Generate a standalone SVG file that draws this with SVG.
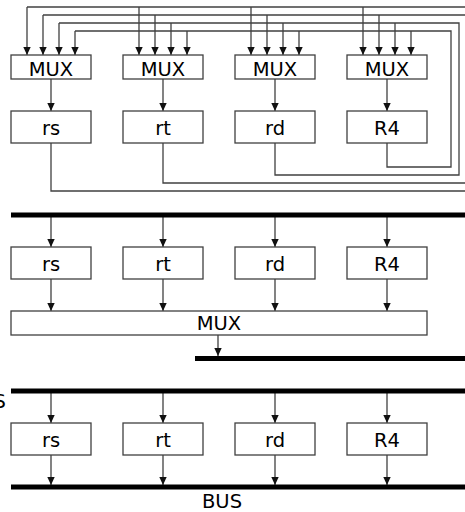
<svg xmlns="http://www.w3.org/2000/svg" width="465" height="512" viewBox="0 0 465 512">
<style>
.box{fill:#fff;stroke:#404040;stroke-width:1.3}
.ln{fill:none;stroke:#404040;stroke-width:1.3}
.arr{fill:none;stroke:#404040;stroke-width:1.3;marker-end:url(#ah)}
.bar{fill:none;stroke:#000;stroke-width:5}
.t{font-family:"DejaVu Sans",Verdana,sans-serif;font-size:19.5px;fill:#000;text-anchor:middle}
</style>
<defs>
<marker id="ah" markerWidth="8" markerHeight="8" refX="8" refY="4" orient="auto" markerUnits="userSpaceOnUse">
<path d="M0,0.3 L8,4 L0,7.7 z" fill="#111"/>
</marker>
</defs>
<rect width="465" height="512" fill="#fff"/>

<g id="connectors">
<polyline class="ln" points="51,143 51,191 470,191"/>
<polyline class="ln" points="163,143 163,183 470,183"/>
<polyline class="ln" points="275,143 275,175 459,175 459,23 59,23"/>
<polyline class="ln" points="387,143 387,167 451,167 451,31 75,31"/>
<polyline class="ln" points="470,7 27,7"/>
<polyline class="ln" points="470,15 43,15"/>
<path class="arr" d="M27,7V55"/><path class="arr" d="M43,15V55"/><path class="arr" d="M59,23V55"/><path class="arr" d="M75,31V55"/>
<path class="arr" d="M139,7V55"/><path class="arr" d="M155,15V55"/><path class="arr" d="M171,23V55"/><path class="arr" d="M187,31V55"/>
<path class="arr" d="M251,7V55"/><path class="arr" d="M267,15V55"/><path class="arr" d="M283,23V55"/><path class="arr" d="M299,31V55"/>
<path class="arr" d="M363,7V55"/><path class="arr" d="M379,15V55"/><path class="arr" d="M395,23V55"/><path class="arr" d="M411,31V55"/>
<path class="arr" d="M51,79V111"/><path class="arr" d="M163,79V111"/><path class="arr" d="M275,79V111"/><path class="arr" d="M387,79V111"/>
<path class="arr" d="M51,217V247"/><path class="arr" d="M163,217V247"/><path class="arr" d="M275,217V247"/><path class="arr" d="M387,217V247"/>
<path class="arr" d="M51,279V311"/><path class="arr" d="M163,279V311"/><path class="arr" d="M275,279V311"/><path class="arr" d="M387,279V311"/>
<path class="arr" d="M218,335V356"/>
<path class="arr" d="M51,393V423"/><path class="arr" d="M163,393V423"/><path class="arr" d="M275,393V423"/><path class="arr" d="M387,393V423"/>
<path class="arr" d="M51,455V485"/><path class="arr" d="M163,455V485"/><path class="arr" d="M275,455V485"/><path class="arr" d="M387,455V485"/>
</g>

<g id="mux1"><rect class="box" x="11" y="55" width="80" height="24"/><text class="t" x="51" y="75.5">MUX</text></g>
<g id="mux2"><rect class="box" x="123" y="55" width="80" height="24"/><text class="t" x="163" y="75.5">MUX</text></g>
<g id="mux3"><rect class="box" x="235" y="55" width="80" height="24"/><text class="t" x="275" y="75.5">MUX</text></g>
<g id="mux4"><rect class="box" x="347" y="55" width="80" height="24"/><text class="t" x="387" y="75.5">MUX</text></g>
<g id="rs1"><rect class="box" x="11" y="111" width="80" height="32"/><text class="t" x="51" y="134.5">rs</text></g>
<g id="rt1"><rect class="box" x="123" y="111" width="80" height="32"/><text class="t" x="163" y="134.5">rt</text></g>
<g id="rd1"><rect class="box" x="235" y="111" width="80" height="32"/><text class="t" x="275" y="134.5">rd</text></g>
<g id="r41"><rect class="box" x="347" y="111" width="80" height="32"/><text class="t" x="387" y="134.5">R4</text></g>

<g id="bus2top"><line class="bar" x1="11" y1="215" x2="465" y2="215"/></g>
<g id="rs2"><rect class="box" x="11" y="247" width="80" height="32"/><text class="t" x="51" y="270.5">rs</text></g>
<g id="rt2"><rect class="box" x="123" y="247" width="80" height="32"/><text class="t" x="163" y="270.5">rt</text></g>
<g id="rd2"><rect class="box" x="235" y="247" width="80" height="32"/><text class="t" x="275" y="270.5">rd</text></g>
<g id="r42"><rect class="box" x="347" y="247" width="80" height="32"/><text class="t" x="387" y="270.5">R4</text></g>
<g id="mux5"><rect class="box" x="11" y="311" width="416" height="24"/><text class="t" x="219" y="330">MUX</text></g>
<g id="bus2out"><line class="bar" x1="195" y1="358.5" x2="465" y2="358.5"/></g>

<g id="bus3top"><line class="bar" x1="11" y1="391" x2="465" y2="391"/><text class="t" x="6" y="408" style="text-anchor:end">BUS</text></g>
<g id="rs3"><rect class="box" x="11" y="423" width="80" height="32"/><text class="t" x="51" y="446.5">rs</text></g>
<g id="rt3"><rect class="box" x="123" y="423" width="80" height="32"/><text class="t" x="163" y="446.5">rt</text></g>
<g id="rd3"><rect class="box" x="235" y="423" width="80" height="32"/><text class="t" x="275" y="446.5">rd</text></g>
<g id="r43"><rect class="box" x="347" y="423" width="80" height="32"/><text class="t" x="387" y="446.5">R4</text></g>
<g id="bus3bot"><line class="bar" x1="11" y1="487" x2="465" y2="487"/><text class="t" x="222" y="507.5">BUS</text></g>
</svg>
